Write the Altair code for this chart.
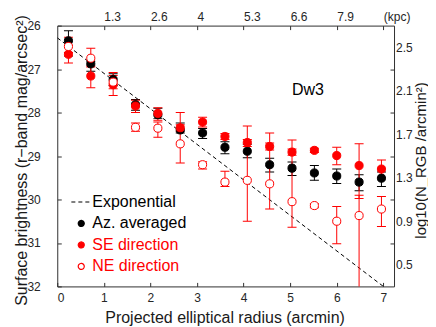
import altair as alt
import pandas as pd

# ---------------- data ----------------
radius = [0.24, 0.72, 1.20, 1.68, 2.16, 2.64, 3.12, 3.60, 4.08, 4.56, 5.04, 5.52, 6.00, 6.48, 6.96]

az_mu = [26.35, 26.88, 27.24, 27.82, 28.05, 28.40, 28.47, 28.80, 28.89, 29.20, 29.28, 29.39, 29.46, 29.60, 29.51]
az_lo = [26.12, 26.82, 27.11, 27.70, 27.90, 28.24, 28.37, 28.67, 28.73, 29.05, 29.14, 29.22, 29.30, 29.43, 29.37]
az_hi = [26.70, 27.05, 27.38, 27.95, 28.14, 28.47, 28.60, 28.95, 29.04, 29.37, 29.45, 29.56, 29.63, 29.80, 29.70]

se_mu = [26.66, 27.16, 27.36, 27.85, 28.02, 28.35, 28.22, 28.55, 28.69, 28.78, 28.91, 28.87, 28.99, 29.22, 29.30]
se_lo = [26.45, 26.93, 27.08, 27.72, 27.89, 28.28, 28.11, 28.48, 28.62, 28.70, 28.84, 28.82, 28.80, 28.72, 29.09]
se_hi = [26.86, 27.43, 27.61, 28.00, 28.18, 28.43, 28.33, 28.62, 28.78, 28.86, 28.98, 28.92, 29.20, 29.98, 29.50]

ne_mu = [26.48, 26.75, 27.30, 28.34, 28.36, 28.72, 29.20, 29.60, 29.56, 29.64, 30.05, 30.14, 30.50, 30.37, 30.22]
ne_lo = [26.27, 26.52, 27.15, 28.24, 28.22, 28.00, 29.13, 29.35, 28.31, 28.47, 28.63, 30.10, 30.16, 29.90, 29.93]
ne_hi = [26.62, 26.95, 27.45, 28.43, 28.57, 29.16, 29.30, 29.70, 30.50, 30.22, 30.64, 30.19, 31.02, 33.00, 30.62]

exp_r = [0.0, 7.0]
exp_mu = [26.28, 32.0]

series_names = ["Exponential", "Az. averaged", "SE direction", "NE direction"]
stroke_colors = ["black", "black", "red", "red"]
fill_colors = ["transparent", "black", "red", "white"]
legend_shapes = ["M-3.3,0L3.3,0", "circle", "circle", "circle"]
dash_patterns = [[4, 3], [1, 0], [1, 0], [1, 0]]

x_ticks = [0, 1, 2, 3, 4, 5, 6, 7]
y_ticks = [26, 27, 28, 29, 30, 31, 32]
kpc_ticks = [1, 2, 3, 4, 5, 6, 7]
kpc_labels = ["1.3", "2.6", "4", "5.3", "6.6", "7.9", "(kpc)"]
log_ticks = [26.5, 27, 27.5, 28, 28.5, 29, 29.5, 30, 30.5, 31, 31.5]
log_labels = ["2.5", "2.1", "1.7", "1.3", "0.9", "0.5"]

annot_r = [5.38]
annot_mu = [27.49]
annot_text = ["Dw3"]

# ---------------- tables ----------------
exp_df = pd.DataFrame({"r": exp_r, "mu": exp_mu, "series": "Exponential"})

frames = []
for name, mu, lo, hi in [("Az. averaged", az_mu, az_lo, az_hi),
                         ("SE direction", se_mu, se_lo, se_hi),
                         ("NE direction", ne_mu, ne_lo, ne_hi)]:
    frames.append(pd.DataFrame({"r": radius, "mu": mu, "lo": lo, "hi": hi, "series": name}))
pts_df = pd.concat(frames, ignore_index=True)

annot_df = pd.DataFrame({"r": annot_r, "mu": annot_mu, "label": annot_text})

FONT = "Liberation Sans"
AX = "#303030"

xs = alt.Scale(domain=[0, 7.23], nice=False, zero=False)
ys = alt.Scale(domain=[26, 32], reverse=True, nice=False, zero=False)

stroke_scale = alt.Scale(domain=series_names, range=stroke_colors)
fill_scale = alt.Scale(domain=series_names, range=fill_colors)
shape_scale = alt.Scale(domain=series_names, range=legend_shapes)
dash_scale = alt.Scale(domain=series_names, range=dash_patterns)

red_list = "['SE direction','NE direction']"
legend_def = alt.Legend(
    title=None, orient="none", legendX=16, legendY=168.5, padding=0,
    symbolSize=36, symbolStrokeWidth=1.2, labelFontSize=16, labelFont=FONT,
    labelOffset=3, rowPadding=5.5,
    labelColor=alt.ExprRef(expr="indexof(" + red_list + ", datum.label) >= 0 ? 'red' : 'black'"),
)

inward = alt.ExprRef(expr="-4")

bottom_axis = alt.Axis(orient="bottom", values=x_ticks, format="d",
                       title="Projected elliptical radius (arcmin)",
                       tickSize=inward, labelPadding=10,
                       titleX=167.4, titleY=36, titleBaseline="alphabetic")
left_axis = alt.Axis(orient="left", values=y_ticks, format="d",
                     title="Surface brightness (r−band mag/arcsec²)",
                     tickSize=inward, labelPadding=21,
                     titleX=-31, titleY=134.5, titleAngle=270,
                     titleBaseline="alphabetic", titleAlign="center")
top_expr = "[" + ",".join("'" + s + "'" for s in kpc_labels) + "][datum.value - 1]"
top_axis = alt.Axis(orient="top", values=kpc_ticks, title="",
                    labelExpr=top_expr, labelAlign="left",
                    tickSize=inward, labelPadding=6.5)
right_expr = ("datum.value % 1 == 0 ? '' : ["
              + ",".join("'" + s + "'" for s in log_labels)
              + "][floor(datum.value) - 26]")
right_axis = alt.Axis(orient="right", values=log_ticks, title="log10(N_RGB /arcmin²)",
                      labelExpr=right_expr, labelAlign="left",
                      tickSize=inward, labelPadding=5.5,
                      tickOpacity=alt.ExprRef(expr="datum.value % 1 == 0 ? 1 : 0"),
                      titleX=31, titleY=134.5, titleAngle=270,
                      titleBaseline="alphabetic", titleAlign="center", titleFontSize=15)

line = alt.Chart(exp_df).mark_line(strokeWidth=1, clip=True).encode(
    x=alt.X("r:Q", scale=xs, axis=bottom_axis),
    y=alt.Y("mu:Q", scale=ys, axis=left_axis),
    stroke=alt.Stroke("series:N", scale=stroke_scale, legend=legend_def),
    strokeDash=alt.StrokeDash("series:N", scale=dash_scale, legend=legend_def),
)

err_layers = []
for name, col in [("Az. averaged", "black"), ("SE direction", "red"), ("NE direction", "red")]:
    sub = pts_df[pts_df["series"] == name]
    base = alt.Chart(sub)
    err_layers.append(base.mark_rule(color=col, strokeWidth=1, clip=True).encode(
        x=alt.X("r:Q", scale=xs, axis=None),
        y=alt.Y("lo:Q", scale=ys, axis=None),
        y2="hi:Q",
    ))
    for end in ["lo", "hi"]:
        err_layers.append(base.mark_tick(color=col, orient="horizontal", size=9,
                                         thickness=1, clip=True, opacity=1).encode(
            x=alt.X("r:Q", scale=xs, axis=None),
            y=alt.Y(end + ":Q", scale=ys, axis=None),
        ))

pts = alt.Chart(pts_df).mark_point(size=66, strokeWidth=1, opacity=1).encode(
    x=alt.X("r:Q", scale=xs, axis=top_axis),
    y=alt.Y("mu:Q", scale=ys, axis=right_axis),
    stroke=alt.Stroke("series:N", scale=stroke_scale, legend=legend_def),
    fill=alt.Fill("series:N", scale=fill_scale, legend=legend_def),
    shape=alt.Shape("series:N", scale=shape_scale, legend=legend_def),
)

annot = alt.Chart(annot_df).mark_text(fontSize=16, font=FONT, color="black",
                                      align="center", baseline="middle").encode(
    x=alt.X("r:Q", scale=xs, axis=None),
    y=alt.Y("mu:Q", scale=ys, axis=None),
    text="label:N",
)

chart = alt.layer(line, *err_layers, pts, annot).resolve_axis(
    x="independent", y="independent"
).properties(
    width=337, height=261,
    autosize=alt.AutoSizeParams(type="none"),
    padding={"left": 49.3, "top": 17.5, "right": 34, "bottom": 40},
).configure_view(strokeWidth=0).configure_axis(
    grid=False, labelFont=FONT, titleFont=FONT, labelFontSize=12, titleFontSize=16,
    titleFontWeight="normal", domainColor=AX, tickColor=AX, labelColor="#262626",
    titleColor="#1a1a1a", domainWidth=1, tickWidth=1,
)

chart.save("out.html", embed_options={"renderer": "svg", "actions": False})
